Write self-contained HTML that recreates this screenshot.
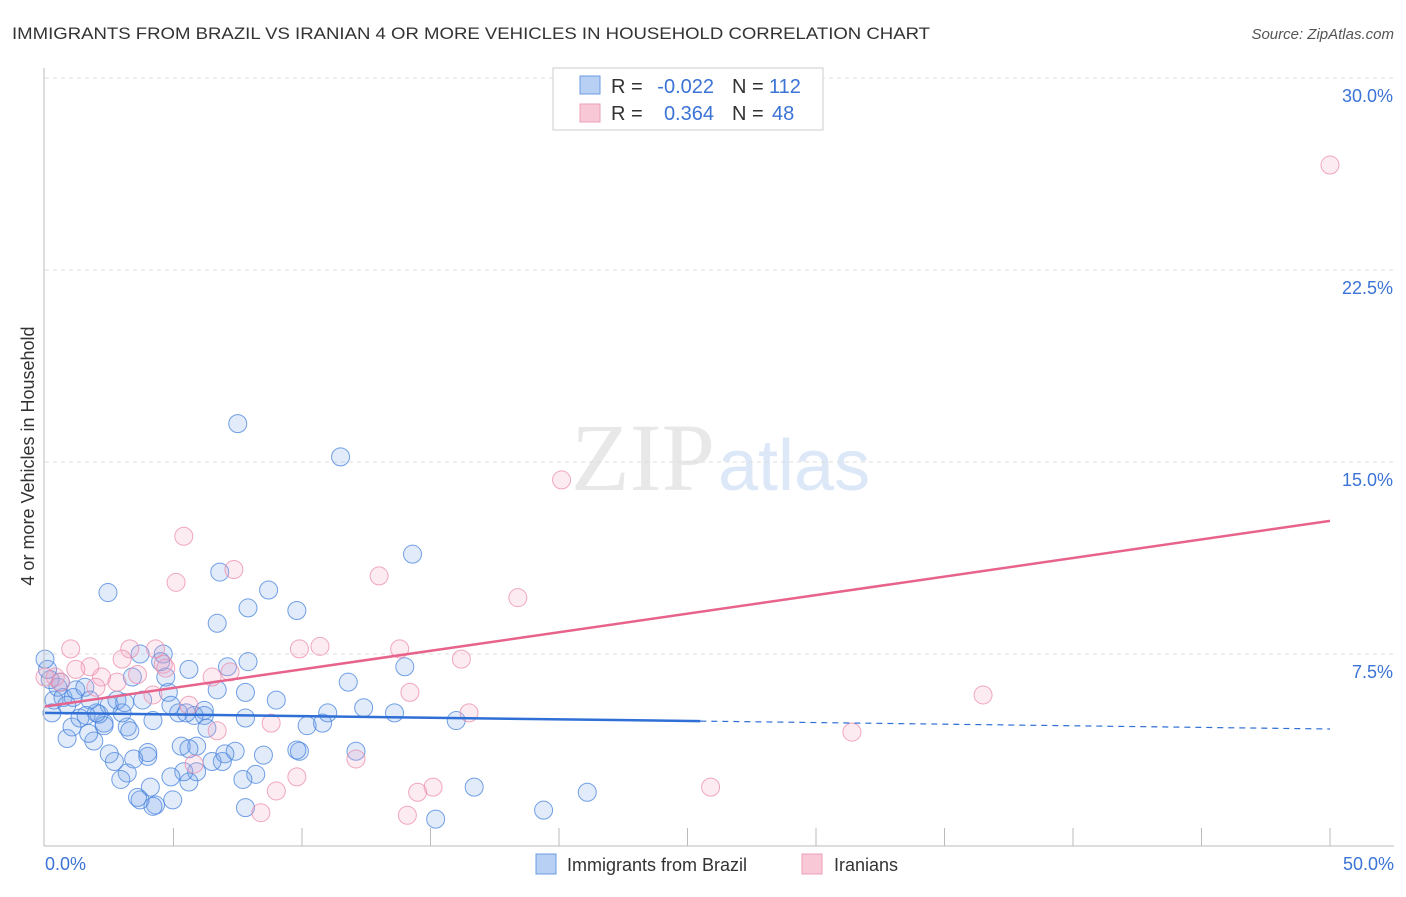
<!DOCTYPE html>
<html><head><meta charset="utf-8"><style>
body{margin:0;background:#fff;font-family:"Liberation Sans",sans-serif;}
</style></head><body>
<svg id="chart" width="1406" height="892" xmlns="http://www.w3.org/2000/svg">
<text x="12" y="39" font-size="17" fill="#333" textLength="918" lengthAdjust="spacingAndGlyphs">IMMIGRANTS FROM BRAZIL VS IRANIAN 4 OR MORE VEHICLES IN HOUSEHOLD CORRELATION CHART</text>
<text x="1394" y="39" font-size="15" fill="#555" font-style="italic" text-anchor="end">Source: ZipAtlas.com</text>
<text x="715" y="490" font-size="96" fill="#e8e8e8" font-family="Liberation Serif,serif" text-anchor="end">ZIP</text>
<text x="718" y="490" font-size="72" fill="#dce8f8">atlas</text>
<g id="grid"></g><g id="pts"></g><g id="lines"></g>
<line x1="44" y1="68" x2="44" y2="846" stroke="#bbb"/>
<line x1="44" y1="846" x2="1394" y2="846" stroke="#bbb"/>
<text transform="translate(34,456) rotate(-90)" font-size="18" fill="#333" text-anchor="middle">4 or more Vehicles in Household</text>
<text x="45" y="870" font-size="18" fill="#3b73d6">0.0%</text>
<text x="1394" y="870" font-size="18" fill="#3b73d6" text-anchor="end">50.0%</text>
<g>
<rect x="553" y="68" width="270" height="62" fill="#fff" stroke="#ccc"/>
<rect x="580" y="76" width="20" height="18" fill="#b8d0f4" stroke="#6b9be0"/>
<rect x="580" y="104" width="20" height="18" fill="#f8c8d6" stroke="#ef9fb8"/>
<text x="611" y="93" font-size="20" fill="#333">R =</text>
<text x="714" y="93" font-size="20" fill="#3b73d6" text-anchor="end">-0.022</text>
<text x="732" y="93" font-size="20" fill="#333">N =</text>
<text x="769" y="93" font-size="20" fill="#3b73d6">112</text>
<text x="611" y="120" font-size="20" fill="#333">R =</text>
<text x="714" y="120" font-size="20" fill="#3b73d6" text-anchor="end">0.364</text>
<text x="732" y="120" font-size="20" fill="#333">N =</text>
<text x="772" y="120" font-size="20" fill="#3b73d6">48</text>
</g>
<g>
<rect x="536" y="854" width="20" height="20" fill="#b8d0f4" stroke="#6b9be0"/>
<text x="567" y="871" font-size="18" fill="#333">Immigrants from Brazil</text>
<rect x="802" y="854" width="20" height="20" fill="#f8c8d6" stroke="#ef9fb8"/>
<text x="834" y="871" font-size="18" fill="#333">Iranians</text>
</g>
</svg>
<script>
const yTicks=[7.5,15,22.5,30];
const blueX=[7.5,11.5,14.3,2.45,6.8,8.7,7.9,9.8,6.7,7.9,7.1,5.6,4.6,3.7,14.0,11.8,6.7,7.8,9.0,12.4,13.6,11.0,16.0,10.2,10.8,12.1,9.9,9.8,8.5,7.4,6.9,6.5,5.9,5.3,16.7,19.4,21.1,15.2,7.8,8.2,7.7,5.9,5.6,5.4,4.9,4.97,4.3,4.2,3.7,3.6,4.1,3.2,2.95,4.0,4.0,3.45,2.7,2.5,4.2,3.2,3.3,2.3,2.3,1.9,1.7,0.86,1.05,1.36,2.1,3.0,2.5,2.8,3.1,3.8,4.8,5.2,4.9,6.2,6.2,6.3,5.8,5.5,3.4,4.7,4.5,0.27,0.35,0.5,0.7,1.1,1.2,1.55,1.75,2.0,0.2,0.1,0.0,0.6,0.85,1.6,7.8,5.6,7.0];
const blueY=[16.5,15.2,11.4,9.9,10.7,10.0,9.3,9.2,8.7,7.2,7.0,6.9,7.5,7.5,7.0,6.4,6.1,6.0,5.7,5.4,5.2,5.2,4.9,4.7,4.8,3.7,3.7,3.75,3.55,3.7,3.3,3.3,3.9,3.9,2.3,1.4,2.1,1.05,1.5,2.8,2.6,2.9,2.5,2.9,2.7,1.8,1.6,1.55,1.8,1.9,2.3,2.85,2.6,3.5,3.65,3.4,3.3,3.6,4.9,4.65,4.5,4.8,4.7,4.1,4.4,4.2,4.65,5.0,5.15,5.2,5.5,5.7,5.6,5.7,6.0,5.2,5.5,5.3,5.1,4.6,5.1,5.2,6.6,6.6,7.2,5.2,5.7,6.2,5.8,5.8,6.1,6.2,5.7,5.2,6.5,6.9,7.3,6.4,5.5,5.1,5.0,3.8,3.6];
const pinkX=[50,20.1,5.4,5.1,7.35,13.0,18.4,10.7,9.9,13.8,16.2,3.3,4.3,1.0,3.0,1.75,1.2,4.6,3.6,2.2,2.8,0.4,0.6,1.98,4.2,6.5,7.2,5.6,4.7,14.2,36.5,16.5,8.8,6.7,31.4,12.1,5.8,9.8,9.0,15.1,14.5,25.9,8.4,14.1,0.0];
const pinkY=[26.6,14.3,12.1,10.3,10.8,10.55,9.7,7.8,7.7,7.7,7.3,7.7,7.7,7.7,7.3,7.0,6.9,7.1,6.7,6.6,6.4,6.6,6.4,6.2,5.9,6.6,6.8,5.5,6.95,6.0,5.9,5.2,4.8,4.5,4.45,3.4,3.2,2.7,2.15,2.3,2.1,2.3,1.3,1.2,6.6];
const blueTrend=[5.2,4.57], pinkTrend=[5.45,12.7], blueSolidEnd=25.5;
const NS="http://www.w3.org/2000/svg";
const sx=v=>45+v/50*1285, sy=v=>846-v/7.5*192;
const grid=document.getElementById('grid');
yTicks.forEach(t=>{
 const l=document.createElementNS(NS,'line');
 l.setAttribute('x1',45);l.setAttribute('x2',1394);l.setAttribute('y1',sy(t));l.setAttribute('y2',sy(t));
 l.setAttribute('stroke','#ddd');l.setAttribute('stroke-dasharray','4,4');
 
 
 grid.appendChild(l);
 const tx=document.createElementNS(NS,'text');
 tx.setAttribute('x',1393);tx.setAttribute('y',sy(t)+24);tx.setAttribute('text-anchor','end');
 tx.setAttribute('font-size','18');tx.setAttribute('fill','#3b73d6');tx.textContent=t.toFixed(1)+'%';
 
 
 grid.appendChild(tx);
});
for(let i=1;i<=10;i++){
 const l=document.createElementNS(NS,'line');
 const x=sx(i*5);
 l.setAttribute('x1',x);l.setAttribute('x2',x);l.setAttribute('y1',828);l.setAttribute('y2',846);l.setAttribute('stroke','#bbb');
 
 
 grid.appendChild(l);
}
const pts=document.getElementById('pts');
function dot(x,y,fill,stroke,name){
 const c=document.createElementNS(NS,'circle');
 c.setAttribute('cx',sx(x));c.setAttribute('cy',sy(y));c.setAttribute('r',9);
 c.setAttribute('fill',fill);c.setAttribute('stroke',stroke);c.setAttribute('stroke-width','1');
 
 
 pts.appendChild(c);
}
blueX.forEach((x,i)=>dot(x,blueY[i],'rgba(120,165,230,0.22)','rgba(70,130,220,0.75)','brazil-point'));
pinkX.forEach((x,i)=>dot(x,pinkY[i],'rgba(245,165,195,0.22)','rgba(235,140,170,0.75)','iranian-point'));
const lines=document.getElementById('lines');
function ln(x1,y1,x2,y2,col,dash,name){
 const l=document.createElementNS(NS,'line');
 l.setAttribute('x1',sx(x1));l.setAttribute('y1',sy(y1));l.setAttribute('x2',sx(x2));l.setAttribute('y2',sy(y2));
 l.setAttribute('stroke',col);l.setAttribute('stroke-width',dash?1.2:2.5);
 if(dash)l.setAttribute('stroke-dasharray','6,5');
 
 
 lines.appendChild(l);
}
const bAt=x=>blueTrend[0]+(blueTrend[1]-blueTrend[0])*x/50;
ln(0,blueTrend[0],blueSolidEnd,bAt(blueSolidEnd),'#2f6fd6',false,'brazil-trend-line');
ln(blueSolidEnd,bAt(blueSolidEnd),50,blueTrend[1],'#2f6fd6',true,'brazil-trend-extension');
ln(0,pinkTrend[0],50,pinkTrend[1],'#e8638c',false,'iranian-trend-line');
</script>
</body></html>
